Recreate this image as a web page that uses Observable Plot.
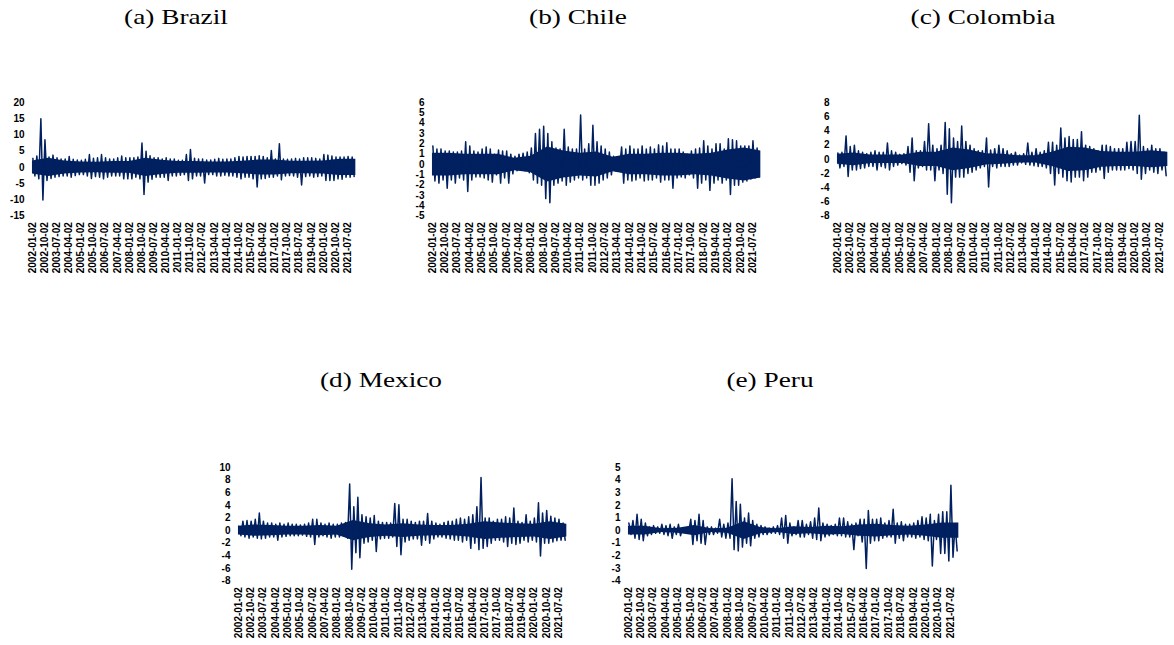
<!DOCTYPE html>
<html>
<head>
<meta charset="utf-8">
<script src="https://cdn.jsdelivr.net/npm/d3@7"></script>
<script src="https://cdn.jsdelivr.net/npm/@observablehq/plot@0.6"></script>
<style>
  body { margin: 0; background: #fff; }
  #fig { position: relative; width: 1174px; height: 645px; overflow: hidden; background: #fff; }
  .ttl { position: absolute; font-family: "Liberation Serif", "Times New Roman", serif; font-size: 21px; line-height: 21px; color: #000; white-space: nowrap; transform: translateX(-50%) scaleX(1.3); }
</style>
</head>
<body>
<div id="fig"></div>
<script>
// ---------- tick labels ----------
const xTickLabels = ["2002-01-02","2002-10-02","2003-07-02","2004-04-02","2005-01-02","2005-10-02","2006-07-02","2007-04-02","2008-01-02","2008-10-02","2009-07-02","2010-04-02","2011-01-02","2011-10-02","2012-07-02","2013-04-02","2014-01-02","2014-10-02","2015-07-02","2016-04-02","2017-01-02","2017-10-02","2018-07-02","2019-04-02","2020-01-02","2020-10-02","2021-07-02"];
const xStart = "2002-01-02";
const xEnd = "2021-12-31";

const brazilYTicks = [-15, -10, -5, 0, 5, 10, 15, 20];
const chileYTicks = [-5, -4, -3, -2, -1, 0, 1, 2, 3, 4, 5, 6];
const colombiaYTicks = [-8, -6, -4, -2, 0, 2, 4, 6, 8];
const mexicoYTicks = [-8, -6, -4, -2, 0, 2, 4, 6, 8, 10];
const peruYTicks = [-4, -3, -2, -1, 0, 1, 2, 3, 4, 5];

// ---------- quarterly high / low extremes of daily returns (2002Q1 .. 2021Q4) ----------
const brazilHigh = [2.8,3.5,15.0,8.5, 3.2,3.8,3.0,2.6, 2.6,3.4,2.5,2.3, 2.2,2.5,4.0,2.8, 3.0,4.0,3.0,2.6,
  2.6,3.0,3.5,3.0, 3.0,3.0,3.2,7.5, 5.0,3.6,3.0,3.0, 2.6,3.0,2.6,2.6, 2.2,2.2,4.0,5.5,
  2.8,2.6,2.6,2.3, 2.3,2.5,2.8,2.5, 2.6,2.6,3.0,3.4, 3.2,3.4,3.4,3.4, 3.6,3.4,3.0,5.2,
  2.6,7.3,2.6,2.5, 2.6,2.8,2.6,3.0, 3.0,3.0,2.8,2.6, 4.0,3.8,3.5,3.2, 3.2,3.2,3.4,3.2];
const brazilLow = [-2.6,-3.5,-10.0,-4.0, -3.4,-3.0,-2.8,-2.6, -2.6,-3.0,-2.5,-2.2, -2.2,-2.6,-3.4,-2.8, -3.0,-3.5,-3.0,-2.6,
  -2.6,-2.6,-3.5,-3.5, -3.5,-3.0,-3.5,-8.3, -4.5,-3.6,-3.0,-3.0, -3.0,-4.0,-2.6,-2.6, -2.4,-2.2,-4.0,-3.5,
  -2.6,-2.6,-4.8,-2.2, -2.2,-2.6,-2.6,-2.4, -2.6,-2.6,-3.0,-3.5, -3.0,-3.0,-3.5,-6.0, -3.5,-3.4,-3.0,-3.0,
  -2.6,-3.8,-2.6,-2.5, -2.6,-3.0,-5.4,-2.8, -2.6,-3.0,-2.8,-2.6, -4.0,-4.0,-4.0,-3.5, -3.6,-3.0,-3.0,-2.8];

const chileHigh = [1.8,1.5,1.5,1.3, 1.3,1.2,1.2,1.3, 2.2,1.8,1.3,1.2, 1.5,1.7,1.5,1.0, 1.4,1.3,1.3,1.0,
  0.8,1.0,1.1,1.2, 1.6,3.0,3.4,3.7, 3.0,2.2,1.6,1.5, 3.4,1.7,1.5,1.5, 4.8,1.5,2.0,3.8,
  2.2,1.8,1.5,1.2, 0.8,0.4,1.7,1.5, 1.8,1.5,1.5,1.8, 1.5,1.7,1.5,1.9, 1.8,2.1,1.5,1.5,
  1.5,1.2,1.0,1.3, 1.5,1.6,2.3,1.8, 1.5,2.0,2.0,1.5, 2.5,2.4,2.3,1.8, 1.8,1.8,2.3,1.6];
const chileLow = [-1.6,-1.8,-1.5,-2.3, -1.5,-1.8,-1.3,-1.5, -2.6,-1.5,-1.2,-1.2, -1.3,-1.5,-1.7,-1.0, -1.8,-1.3,-1.8,-0.9,
  -0.6,-0.5,-0.6,-0.8, -1.5,-1.8,-2.0,-3.3, -3.7,-2.0,-1.8,-1.6, -2.0,-1.7,-1.5,-1.3, -1.5,-1.3,-2.0,-2.0,
  -1.8,-1.5,-1.3,-1.0, -0.6,-0.4,-1.8,-1.5, -1.6,-1.5,-1.3,-1.6, -1.5,-1.5,-1.3,-1.7, -1.5,-1.5,-2.3,-1.3,
  -1.2,-1.3,-1.0,-1.3, -2.3,-1.8,-1.5,-2.5, -1.8,-1.5,-1.8,-1.5, -2.9,-2.0,-2.0,-1.7, -1.6,-1.4,-1.3,-1.2];

const colombiaHigh = [0.9,1.0,3.3,1.8, 2.0,1.2,1.0,0.8, 1.0,1.2,1.0,1.0, 2.3,1.2,1.0,0.7, 0.8,1.8,3.0,1.2,
  1.2,2.5,5.0,2.0, 1.5,2.0,5.2,4.3, 3.0,2.5,4.7,2.5, 2.0,1.5,1.2,1.2, 3.0,1.3,1.5,2.0,
  1.5,1.2,0.8,1.0, 0.6,0.8,2.3,1.0, 1.5,1.0,1.2,2.4, 2.4,2.0,4.4,3.0, 3.2,2.8,2.8,3.9,
  2.0,1.8,1.5,1.2, 2.0,2.0,1.8,1.5, 1.5,1.5,2.4,2.5, 2.5,6.2,1.8,1.5, 2.0,1.5,1.5,1.0];
const colombiaLow = [-1.2,-1.0,-2.4,-1.5, -1.5,-1.3,-1.2,-1.0, -1.0,-1.5,-1.0,-1.2, -1.5,-1.0,-0.8,-0.6, -0.8,-1.8,-3.0,-1.2,
  -1.0,-1.5,-1.5,-3.0, -1.5,-2.0,-4.9,-6.1, -2.5,-2.5,-2.5,-2.0, -1.8,-1.5,-1.2,-1.0, -3.9,-1.0,-1.2,-1.0,
  -1.0,-1.0,-0.8,-0.8, -0.5,-0.7,-0.8,-0.9, -1.0,-1.0,-1.2,-2.0, -3.6,-2.0,-2.5,-3.0, -3.2,-2.5,-2.5,-3.0,
  -2.5,-1.8,-1.8,-1.5, -2.7,-1.8,-1.5,-1.5, -1.5,-1.5,-1.3,-1.5, -2.0,-2.8,-2.0,-1.5, -1.8,-2.0,-1.5,-2.3];

const mexicoHigh = [0.7,1.5,1.6,1.5, 1.8,2.8,1.5,1.2, 1.2,1.0,1.2,1.0, 1.2,1.0,1.0,0.9, 1.0,1.2,1.8,1.8,
  1.2,1.0,1.2,1.0, 1.0,1.2,1.3,7.4, 3.8,5.3,2.5,2.2, 2.0,2.4,1.5,1.3, 1.3,1.2,4.3,4.1,
  1.8,1.8,1.5,1.3, 1.5,1.5,2.7,1.5, 1.2,1.0,1.3,1.5, 1.5,1.8,2.0,1.8, 2.2,2.5,3.8,8.4,
  2.0,2.0,1.5,1.8, 1.8,2.2,2.0,3.6, 1.5,1.3,2.5,1.5, 2.0,4.4,2.8,3.2, 2.3,2.0,1.8,1.2];
const mexicoLow = [-0.8,-1.0,-1.2,-1.0, -1.2,-1.3,-1.2,-1.0, -1.0,-1.5,-1.0,-0.9, -0.8,-0.8,-0.8,-0.7, -0.9,-1.0,-2.2,-1.0,
  -0.8,-1.0,-1.2,-1.0, -1.0,-0.8,-1.2,-6.1, -3.5,-4.3,-2.0,-1.8, -1.5,-3.3,-1.3,-1.2, -1.2,-1.0,-2.5,-3.8,
  -1.8,-1.5,-1.3,-1.3, -2.3,-1.5,-2.0,-1.3, -1.0,-1.0,-1.2,-1.3, -1.5,-1.5,-1.8,-1.5, -2.8,-2.0,-3.0,-2.8,
  -2.5,-2.0,-1.5,-1.5, -1.8,-2.5,-2.0,-2.2, -2.0,-1.5,-1.8,-1.5, -1.8,-4.0,-2.0,-2.0, -1.8,-1.6,-1.5,-1.5];

const peruHigh = [0.6,0.8,1.3,0.9, 0.6,0.3,0.4,0.3, 0.5,0.4,0.5,0.3, 0.5,0.2,0.1,0.9, 0.8,1.3,0.8,0.3,
  0.3,0.2,0.9,0.5, 0.6,4.1,2.3,2.1, 1.0,1.4,0.8,0.5, 0.4,0.3,0.2,0.3, 0.4,1.0,1.2,0.6,
  0.3,0.8,0.8,0.5, 0.7,1.0,1.8,0.6, 0.5,0.4,0.5,1.0, 1.0,0.7,0.5,0.6, 0.9,0.9,1.6,0.9,
  0.9,1.0,0.6,0.8, 1.7,0.6,0.7,0.5, 0.5,0.6,0.8,1.1, 1.0,1.3,0.8,1.3, 1.5,1.5,3.6,0.5];
const peruLow = [-0.3,-0.6,-0.7,-0.8, -0.4,-0.3,-0.2,-0.2, -0.3,-0.4,-0.6,-0.3, -0.4,-0.1,-0.1,-1.1, -0.8,-1.0,-1.1,-0.3,
  -0.3,-0.2,-0.5,-0.6, -0.6,-1.5,-1.6,-1.3, -1.0,-1.2,-0.6,-0.5, -0.3,-0.3,-0.2,-0.2, -0.3,-0.6,-1.0,-0.4,
  -0.3,-0.5,-0.5,-0.3, -0.6,-0.7,-0.8,-0.5, -0.4,-0.3,-0.4,-0.4, -0.5,-0.5,-1.5,-0.4, -0.9,-3.0,-1.0,-0.8,
  -0.8,-0.6,-0.5,-0.5, -1.0,-0.6,-0.8,-0.5, -0.5,-0.6,-0.5,-0.7, -0.8,-2.8,-0.7,-1.8, -1.8,-2.4,-2.1,-1.6];

// ---------- half-width of the dense core band at each 1 January, 2002 .. 2022 ----------
const brazilBand   = [2.0, 2.8, 2.0, 1.7, 1.6, 1.8, 1.8, 2.8, 2.2, 1.8, 1.8, 1.7, 1.7, 1.9, 2.3, 2.3, 1.9, 1.9, 2.0, 2.5, 2.5];
const chileBand    = [1.1, 1.1, 1.0, 1.0, 1.0, 0.6, 0.8, 1.7, 1.3, 1.1, 1.2, 0.7, 1.0, 1.0, 1.1, 1.1, 1.0, 1.1, 1.4, 1.6, 1.3];
const colombiaBand = [0.7, 0.9, 0.6, 0.6, 0.6, 1.0, 1.0, 1.6, 1.3, 0.8, 0.7, 0.5, 0.5, 1.0, 1.7, 1.6, 1.1, 1.0, 1.0, 1.2, 1.0];
const mexicoBand   = [0.7, 0.9, 0.8, 0.7, 0.7, 0.8, 0.7, 1.6, 1.1, 0.9, 1.1, 0.9, 0.8, 0.8, 1.0, 1.4, 1.2, 1.1, 1.0, 1.4, 1.0];
const peruBand     = [0.35, 0.35, 0.15, 0.2, 0.4, 0.15, 0.2, 0.7, 0.25, 0.15, 0.3, 0.25, 0.35, 0.3, 0.45, 0.5, 0.4, 0.35, 0.45, 0.6, 0.6];

// ---------- layout (plot frames in page pixels) ----------
const panels = [
  {title: "(a) Brazil",   cx: 176, ty: 7,   hi: brazilHigh,   lo: brazilLow,   band: brazilBand,   yd: [-15, 20], yt: brazilYTicks,   L: 31.7,  R: 355,  T: 102.3, B: 216},
  {title: "(b) Chile",    cx: 578, ty: 7,   hi: chileHigh,    lo: chileLow,    band: chileBand,    yd: [-5, 6],   yt: chileYTicks,    L: 431.7, R: 760,  T: 102.3, B: 216},
  {title: "(c) Colombia", cx: 983, ty: 7,   hi: colombiaHigh, lo: colombiaLow, band: colombiaBand, yd: [-8, 8],   yt: colombiaYTicks, L: 836.7, R: 1167, T: 102.3, B: 216},
  {title: "(d) Mexico",   cx: 381, ty: 370, hi: mexicoHigh,   lo: mexicoLow,   band: mexicoBand,   yd: [-8, 10],  yt: mexicoYTicks,   L: 237.7, R: 566,  T: 467.3, B: 581},
  {title: "(e) Peru",     cx: 770, ty: 370, hi: peruHigh,     lo: peruLow,     band: peruBand,     yd: [-4, 5],   yt: peruYTicks,     L: 627.7, R: 958,  T: 467.3, B: 581}
];

const parse = d3.utcParse("%Y-%m-%d");
const fig = document.getElementById("fig");
const ML = 30, MR = 8, MT = 8, MB = 70;
const NAVY = "#002060";

for (const p of panels) {
  const rows = [];
  p.hi.forEach((h, i) => {
    rows.push({date: new Date(Date.UTC(2002, 3 * i, 10)), value: h});
    rows.push({date: new Date(Date.UTC(2002, 3 * i + 1, 25)), value: p.lo[i]});
  });
  const bandRows = p.band.map((b, i) => ({date: new Date(Date.UTC(2002 + i, 0, 1)), up: b, down: -b}));
  const w = p.R - p.L, h = p.B - p.T;
  const svg = Plot.plot({
    width: w + ML + MR,
    height: h + MT + MB,
    marginLeft: ML, marginRight: MR, marginTop: MT, marginBottom: MB,
    style: {background: "transparent", fontFamily: "'Liberation Sans', Arial, sans-serif", fontSize: "10px", fontWeight: "bold", color: "#000", overflow: "visible"},
    x: {type: "utc", domain: [parse(xStart), parse(xEnd)], ticks: xTickLabels.map(parse), tickFormat: d3.utcFormat("%Y-%m-%d"), tickRotate: -90, tickSize: 0, tickPadding: 6, label: null},
    y: {domain: p.yd, ticks: p.yt, tickSize: 0, tickPadding: 8, tickFormat: d => String(d), label: null},
    marks: [
      Plot.areaY(bandRows, {x: "date", y1: "down", y2: "up", fill: NAVY, curve: "linear"}),
      Plot.line(rows, {x: "date", y: "value", stroke: NAVY, strokeWidth: 1.5})
    ]
  });
  svg.style.position = "absolute";
  svg.style.left = (p.L - ML) + "px";
  svg.style.top = (p.T - MT) + "px";
  fig.appendChild(svg);

  const t = document.createElement("div");
  t.className = "ttl";
  t.textContent = p.title;
  t.style.left = p.cx + "px";
  t.style.top = p.ty + "px";
  fig.appendChild(t);
}
</script>
</body>
</html>
